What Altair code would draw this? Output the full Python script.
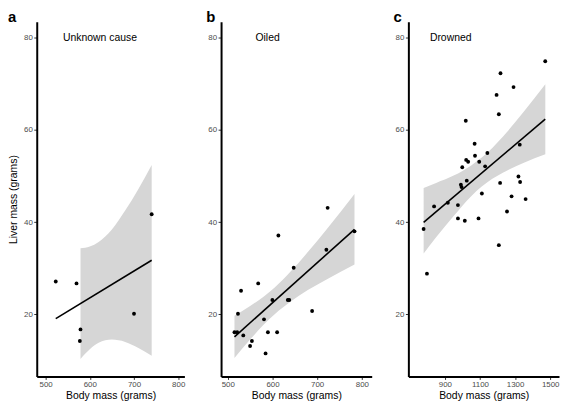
import altair as alt
import pandas as pd

# ---------------- data ----------------
# Panel a: Unknown cause
a_body = [523, 570, 577.5, 579, 700, 740]
a_liver = [27.1, 26.7, 14.2, 16.7, 20.1, 41.7]
a_band_x = [579, 600, 620, 650, 680, 710, 740]
a_band_lo = [10.3, 12.4, 13.8, 14.5, 14.0, 12.7, 11.0]
a_band_hi = [34.3, 34.7, 35.7, 38.4, 42.5, 47.2, 52.4]

# Panel b: Oiled
b_body = [515, 521, 522.8, 529.7, 534.7, 549.9, 554, 568.1, 581.1, 584.6, 589.8,
          599.8, 610.4, 613.2, 634.3, 637.5, 647.5, 688.7, 720.6, 723.4, 783.5]
b_liver = [16.1, 16.1, 20.1, 25.1, 15.4, 13.1, 14.2, 26.7, 18.9, 11.5, 16.1,
           23.1, 16.1, 37.1, 23.1, 23.1, 30.1, 20.7, 34.0, 43.1, 38.0]
b_band_x = [515, 550, 580, 605, 640, 680, 720, 783.5]
b_band_lo = [10.5, 14.5, 17.7, 20.0, 22.7, 25.3, 27.5, 30.8]
b_band_hi = [19.7, 21.8, 23.8, 25.8, 29.2, 33.6, 38.3, 46.1]

# Panel c: Drowned
c_body = [1471.6, 1216.8, 1291.0, 1194.4, 1207.3, 1019.0, 1069.3, 1326.3, 1141.9,
          1071.5, 1021.2, 1032.4, 1095.5, 1129.1, 998.9, 1319.0, 1024.6, 1214.5,
          1328.5, 991.1, 995.0, 1110.6, 1279.9, 1359.8, 838.5, 916.8, 974.3,
          1253.7, 974.3, 1013.4, 1091.6, 778.8, 1207.3, 797.8]
c_liver = [74.9, 72.3, 69.3, 67.6, 63.4, 62.0, 57.0, 56.8, 55.0,
           54.4, 53.5, 53.1, 53.1, 52.1, 51.9, 49.9, 49.0, 48.5,
           48.7, 48.1, 47.6, 46.2, 45.6, 45.0, 43.4, 44.2, 43.7,
           42.3, 40.8, 40.3, 40.8, 38.5, 35.0, 28.8]
c_band_x = [779, 850, 950, 1050, 1110, 1170, 1250, 1350, 1472]
c_band_lo = [33.2, 36.7, 41.3, 45.6, 47.7, 49.4, 51.1, 52.9, 54.7]
c_band_hi = [47.4, 48.5, 50.1, 52.3, 54.0, 56.1, 59.4, 64.0, 69.9]

panel_titles = ["Unknown cause", "Oiled", "Drowned"]
panel_letters = ["a", "b", "c"]
title_x = [623, 589, 933]
title_y = 80

y_ticks = [20, 40, 60, 80]
ab_ticks = [500, 600, 700, 800]
c_ticks = [900, 1100, 1300, 1500]

FONT = "Liberation Sans"
H = 358


def panel(body, liver, bx, blo, bhi, xdom, xticks, ttl, tx, letter, letter_dx, ytitle, w):
    pts = pd.DataFrame({"x": body, "y": liver})
    band = pd.DataFrame({"x": bx, "lo": blo, "hi": bhi})
    xs = alt.Scale(domain=xdom, nice=False, zero=False)
    ys = alt.Scale(domain=[6.5, 83.5], nice=False, zero=False)
    xax = alt.Axis(values=xticks, title="Body mass (grams)", format="d")
    if ytitle:
        yax = alt.Axis(values=y_ticks, title=ytitle, format="d")
    else:
        yax = alt.Axis(values=y_ticks, title=None, format="d")
    X = alt.X("x:Q", scale=xs, axis=xax)
    Y = alt.Y("y:Q", scale=ys, axis=yax)

    area = alt.Chart(band).mark_area(color="#d6d6d6", interpolate="monotone").encode(
        x=X, y=alt.Y("lo:Q", scale=ys, axis=yax), y2="hi:Q")
    line = alt.Chart(pts).transform_regression("x", "y").mark_line(
        color="black", strokeWidth=1.6).encode(x=X, y=Y)
    dots = alt.Chart(pts).mark_circle(color="black", opacity=1, size=15).encode(x=X, y=Y)
    lab = alt.Chart(pd.DataFrame({"x": [tx], "y": [title_y], "t": [ttl]})).mark_text(
        font=FONT, fontSize=10.5, align="center", baseline="middle", color="black").encode(
        x=X, y=Y, text="t:N")
    let = alt.Chart(pd.DataFrame({"t": [letter]})).mark_text(
        font=FONT, fontSize=15, fontWeight="bold", align="left", baseline="alphabetic",
        color="black").encode(x=alt.value(letter_dx), y=alt.value(0), text="t:N")
    return alt.layer(area, line, dots, lab, let).properties(width=w, height=H)


pa = panel(a_body, a_liver, a_band_x, a_band_lo, a_band_hi, [480, 814], ab_ticks,
           panel_titles[0], title_x[0], panel_letters[0], -29, "Liver mass (grams)", 149)
pb = panel(b_body, b_liver, b_band_x, b_band_lo, b_band_hi, [485, 822], ab_ticks,
           panel_titles[1], title_x[1], panel_letters[1], -15, None, 152)
pc = panel(c_body, c_liver, c_band_x, c_band_lo, c_band_hi, [692, 1550], c_ticks,
           panel_titles[2], title_x[2], panel_letters[2], -15, None, 152)

chart = alt.hconcat(pa, pb, pc, spacing=37, bounds="flush").properties(
    padding=0
).configure_view(stroke=None).configure_axis(
    grid=False,
    domainColor="black", domainWidth=2,
    tickColor="#333333", tickSize=3, tickWidth=1,
    labelColor="#4d4d4d", labelFont=FONT, labelFontSize=8, labelPadding=1.5,
    titleFont=FONT, titleFontSize=10.5, titleFontWeight="normal", titleColor="black",
).configure_axisX(titlePadding=2).configure_axisY(titlePadding=5)

chart.save("out.html", embed_options={"renderer": "svg", "actions": False})
